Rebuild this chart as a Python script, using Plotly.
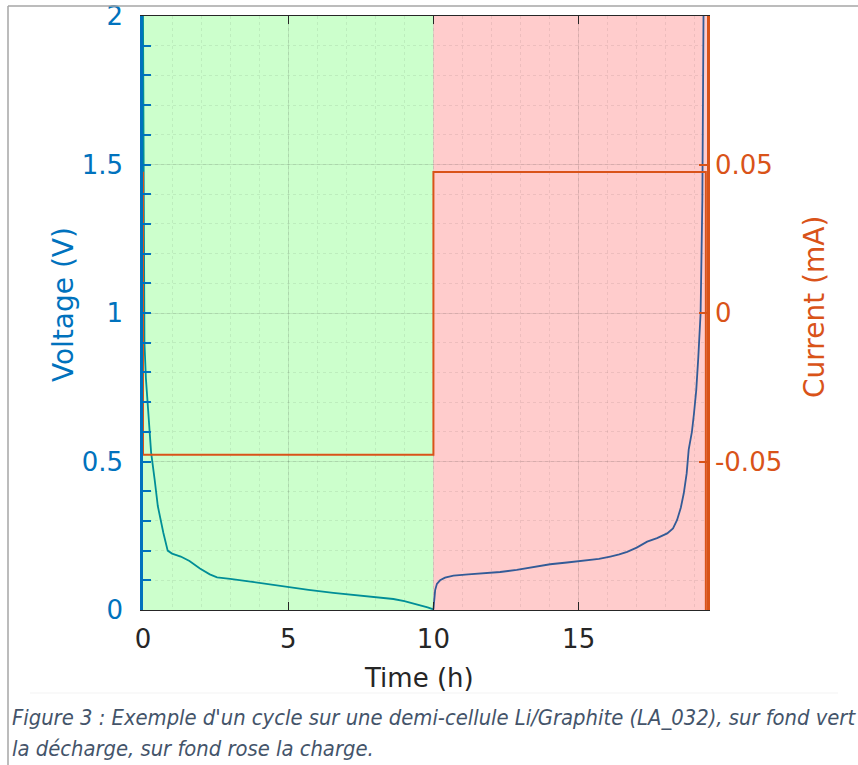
import plotly.graph_objects as go

# ---------------- data ----------------
discharge_t = [0, 0.01, 0.02, 0.035, 0.05, 0.1, 0.16, 0.28, 0.4, 0.51, 0.7, 0.85,
               1.0, 1.3, 1.6, 1.96, 2.3, 2.55, 3.0, 3.7, 4.3, 4.95, 5.7, 6.55,
               7.2, 7.7, 8.2, 8.62, 9.0, 9.43, 9.8, 10.0]
discharge_v = [2.0, 1.7, 1.3, 1.05, 0.9, 0.78, 0.7, 0.53, 0.44, 0.35, 0.26, 0.2,
               0.19, 0.18, 0.165, 0.14, 0.12, 0.11, 0.105, 0.095, 0.088, 0.078, 0.068, 0.058,
               0.052, 0.047, 0.042, 0.037, 0.03, 0.02, 0.009, 0.002]

charge_t = [10.0, 10.02, 10.06, 10.12, 10.23, 10.4, 10.69, 11.2, 11.72, 12.3, 12.87,
            13.5, 14.02, 14.6, 15.17, 15.7, 16.09, 16.4, 16.67, 17.0, 17.36, 17.7,
            18.05, 18.25, 18.39, 18.52, 18.62, 18.72, 18.79, 18.9, 18.97, 19.05,
            19.12, 19.2, 19.26, 19.29, 19.3]
charge_v = [0.002, 0.04, 0.067, 0.088, 0.1, 0.109, 0.116, 0.12, 0.123, 0.128, 0.135,
            0.145, 0.154, 0.16, 0.166, 0.172, 0.18, 0.187, 0.196, 0.21, 0.23, 0.242,
            0.258, 0.275, 0.303, 0.345, 0.393, 0.46, 0.54, 0.6, 0.66, 0.74,
            0.85, 1.0, 1.38, 1.8, 2.0]

current_t = [0, 0, 10.0, 10.0, 19.38, 19.38]
current_ma = [0.0476, -0.0477, -0.0477, 0.0475, 0.0475, -0.12]

phase_bounds = [0, 10.0, 19.42]
phase_colors = ["#ccffcc", "#ffcccc"]

v_tickvals = [0, 0.5, 1, 1.5, 2]
v_ticktext = ["0", "0.5", "1", "1.5", "2"]
i_tickvals = [-0.05, 0, 0.05]
i_ticktext = ["-0.05", "0", "0.05"]
t_tickvals = [0, 5, 10, 15]
t_ticktext = ["0", "5", "10", "15"]

caption_1 = "Figure 3 : Exemple d'un cycle sur une demi-cellule Li/Graphite (LA_032), sur fond vert"
caption_2 = "la décharge, sur fond rose la charge."

BLUE = "#0072bd"
ORANGE = "#d95319"
FONT = "DejaVu Sans"
CAPFONT = "Liberation Sans Narrow, DejaVu Sans Condensed, sans-serif"

fig = go.Figure()

fig.add_trace(go.Scatter(x=discharge_t, y=discharge_v, mode="lines",
                         line=dict(color="rgb(0,142,151)", width=1.8),
                         showlegend=False, hoverinfo="skip"))
fig.add_trace(go.Scatter(x=charge_t, y=charge_v, mode="lines",
                         line=dict(color="rgb(51,91,151)", width=1.8),
                         showlegend=False, hoverinfo="skip"))
fig.add_trace(go.Scatter(x=current_t, y=current_ma, mode="lines", yaxis="y2",
                         line=dict(color=ORANGE, width=2),
                         showlegend=False, hoverinfo="skip"))

shapes = []
for i, c in enumerate(phase_colors):
    shapes.append(dict(type="rect", xref="x", yref="y",
                       x0=phase_bounds[i], x1=phase_bounds[i + 1], y0=0, y1=2,
                       fillcolor=c, line=dict(width=0), layer="below"))

# page frame (document border) in paper coords
W, H = 858, 765
L, R, T, B = 143, 151, 16, 155
pw, ph = W - L - R, H - T - B
def px(x): return (x - L) / pw
def py(y): return (H - B - y) / ph

shapes.append(dict(type="line", xref="paper", yref="paper", x0=px(8), x1=px(8),
                   y0=py(6), y1=py(765), line=dict(color="#a6a6a6", width=1.5)))
shapes.append(dict(type="line", xref="paper", yref="paper", x0=px(8), x1=px(858),
                   y0=py(6), y1=py(6), line=dict(color="#a6a6a6", width=1.5)))
shapes.append(dict(type="line", xref="paper", yref="paper", x0=px(30), x1=px(838),
                   y0=py(693), y1=py(693), line=dict(color="rgba(0,0,0,0.05)", width=1)))

annotations = [
    dict(text="Voltage (V)", xref="paper", yref="paper", x=px(64), y=py(305),
         textangle=-90, showarrow=False, font=dict(family=FONT, size=28, color=BLUE),
         xanchor="center", yanchor="middle"),
    dict(text="Current (mA)", xref="paper", yref="paper", x=px(814), y=py(307),
         textangle=-90, showarrow=False, font=dict(family=FONT, size=28, color=ORANGE),
         xanchor="center", yanchor="middle"),
    dict(text="Time (h)", xref="paper", yref="paper", x=px(419), y=py(678),
         showarrow=False, font=dict(family=FONT, size=26, color="#262626"),
         xanchor="center", yanchor="middle"),
    dict(text="<i>" + caption_1 + "</i>", xref="paper", yref="paper", x=px(10), y=py(717),
         showarrow=False, font=dict(family=CAPFONT, size=21.8, color="#44546a"),
         xanchor="left", yanchor="middle"),
    dict(text="<i>" + caption_2 + "</i>", xref="paper", yref="paper", x=px(10), y=py(748),
         showarrow=False, font=dict(family=CAPFONT, size=21.8, color="#44546a"),
         xanchor="left", yanchor="middle"),
]

fig.update_layout(
    template="none",
    width=W, height=H,
    margin=dict(l=L, r=R, t=T, b=B, pad=0, autoexpand=False),
    paper_bgcolor="white", plot_bgcolor="white",
    shapes=shapes, annotations=annotations,
    xaxis=dict(range=[phase_bounds[0], phase_bounds[-1]], automargin=False,
               tickvals=t_tickvals, ticktext=t_ticktext,
               ticks="inside", ticklen=8, tickwidth=1.2, tickcolor="#262626",
               showline=True, linecolor="#262626", linewidth=1.2, mirror="ticks",
               tickfont=dict(family=FONT, size=26, color="#262626"),
               showgrid=True, gridcolor="rgba(0,0,0,0.09)", gridwidth=1,
               minor=dict(dtick=1, showgrid=True, gridcolor="rgba(0,0,0,0.07)",
                          griddash="dot", ticks=""),
               zeroline=False, ticklabelstandoff=6),
    yaxis=dict(range=[0, 2], automargin=False, tickvals=v_tickvals, ticktext=v_ticktext,
               ticks="inside", ticklen=8, tickwidth=1.5, tickcolor=BLUE,
               showline=True, linecolor=BLUE, linewidth=2.5,
               tickfont=dict(family=FONT, size=26, color=BLUE),
               showgrid=True, gridcolor="rgba(0,0,0,0.09)", gridwidth=1,
               minor=dict(dtick=0.1, showgrid=True, gridcolor="rgba(0,0,0,0.07)",
                          griddash="dot", ticks="inside", ticklen=8, tickcolor=BLUE),
               zeroline=False, ticklabelstandoff=12),
    yaxis2=dict(range=[-0.1, 0.1], automargin=False, overlaying="y", side="right",
                tickvals=i_tickvals, ticktext=i_ticktext,
                ticks="inside", ticklen=8, tickwidth=1.5, tickcolor=ORANGE,
                showline=True, linecolor=ORANGE, linewidth=2.5,
                tickfont=dict(family=FONT, size=26, color=ORANGE),
                showgrid=False, zeroline=False, ticklabelstandoff=0),
)

fig.write_html("out.html", config={"displayModeBar": False},
               post_script="document.body.style.margin='0';document.body.style.overflow='hidden';")
